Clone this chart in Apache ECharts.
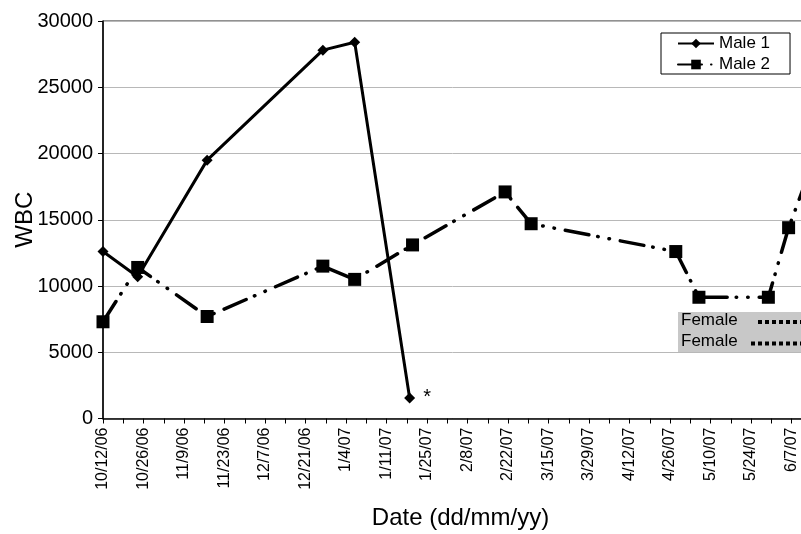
<!DOCTYPE html>
<html>
<head>
<meta charset="utf-8">
<script src="https://cdn.jsdelivr.net/npm/echarts@6/dist/echarts.min.js"></script>
<style>html,body{margin:0;padding:0;background:#fff}#c{width:801px;height:534px}</style>
</head>
<body>
<div id="c"></div>
<script>
// Tick labels (every 14 days from 10/12/06, as printed)
const dateLabels = ['10/12/06','10/26/06','11/9/06','11/23/06','12/7/06','12/21/06','1/4/07','1/11/07','1/25/07','2/8/07','2/22/07','3/15/07','3/29/07','4/12/07','4/26/07','5/10/07','5/24/07','6/7/07'];
// Days since 10/12/06
const male1Days = [0, 12, 36, 76, 87, 106];
const male1WBC  = [12600, 10700, 19500, 27800, 28400, 1550];
const male1Notes = ['', '', '', '', '', '*'];
const male2Days = [0, 12, 36, 76, 87, 107, 139, 148, 198, 206, 230, 237, 244];
const male2WBC  = [7300, 11400, 7700, 11500, 10500, 13100, 17100, 14700, 12600, 9150, 9150, 14400, 18500];
const femaleLegend = ['Female', 'Female'];

const font = 'Liberation Sans, Arial, Helvetica, sans-serif';
const chart = echarts.init(document.getElementById('c'));

const m1 = male1Days.map((d, i) => {
  const item = { value: [d, male1WBC[i]] };
  if (male1Notes[i]) item.label = { show: true, formatter: male1Notes[i], position: 'right', distance: 8, fontSize: 20, color: '#000', fontFamily: font };
  return item;
});
const m2 = male2Days.map((d, i) => [d, male2WBC[i]]);

chart.setOption({
  animation: false,
  backgroundColor: '#fff',
  grid: { left: 103, top: 21, width: 729, height: 397.5, show: true, borderColor: '#222', borderWidth: 1, backgroundColor: 'transparent', containLabel: false, outerBoundsMode: 'none' },
  legend: {
    left: 661, top: 33, orient: 'vertical',
    borderColor: '#000', borderWidth: 1, borderRadius: 0,
    padding: [2, 20, 1, 16], itemGap: 4, itemWidth: 36, itemHeight: 12,
    textStyle: { fontSize: 17, color: '#000', fontFamily: font },
    data: ['Male 1', 'Male 2']
  },
  xAxis: {
    type: 'value', min: 0, max: 252, interval: 14,
    name: 'Date (dd/mm/yy)', nameLocation: 'middle', nameGap: 88,
    nameTextStyle: { fontSize: 24, color: '#000', fontFamily: font, padding: [0, 14, 0, 0] },
    axisLine: { lineStyle: { color: '#000', width: 1.5 } },
    axisTick: { show: true, length: 5, lineStyle: { color: '#000' } },
    minorTick: { show: true, splitNumber: 2, length: 5, lineStyle: { color: '#000' } },
    splitLine: { show: false },
    axisLabel: {
      rotate: 90, fontSize: 16, color: '#000', fontFamily: font, margin: 9,
      formatter: v => dateLabels[Math.round(v / 14)] || ''
    }
  },
  yAxis: {
    type: 'value', min: 0, max: 30000, interval: 5000,
    name: 'WBC', nameLocation: 'middle', nameGap: 66, nameRotate: 90, nameMoveOverlap: false,
    nameTextStyle: { fontSize: 24, color: '#000', fontFamily: font },
    axisLine: { show: true, lineStyle: { color: '#000', width: 1.5 } },
    axisTick: { show: true, length: 5, lineStyle: { color: '#000' } },
    splitLine: { show: true, lineStyle: { color: '#b8b8b8', width: 1 } },
    axisLabel: { fontSize: 20, color: '#000', fontFamily: font, margin: 10, formatter: v => String(v) }
  },
  graphic: [
    { type: 'rect', left: 678, top: 312, shape: { width: 140, height: 40 }, style: { fill: '#c8c8c8' }, z: 100 },
    { type: 'text', left: 681, top: 312, style: { text: femaleLegend[0], fontSize: 17, fill: '#000', fontFamily: font }, z: 101 },
    { type: 'text', left: 681, top: 333, style: { text: femaleLegend[1], fontSize: 17, fill: '#000', fontFamily: font }, z: 101 },
    { type: 'line', shape: { x1: 758, y1: 322, x2: 806, y2: 322 }, style: { stroke: '#000', lineWidth: 4, lineDash: [4, 3] }, z: 101 },
    { type: 'line', shape: { x1: 751, y1: 343.5, x2: 806, y2: 343.5 }, style: { stroke: '#000', lineWidth: 4, lineDash: [4, 3] }, z: 101 }
  ],
  series: [
    {
      name: 'Male 2', type: 'line', data: m2,
      symbol: 'rect', symbolSize: 13, showAllSymbol: true,
      itemStyle: { color: '#000' },
      lineStyle: { color: '#000', width: 3.5, type: [24, 9, 0.5, 11, 0.5, 11], cap: 'round' },
      z: 2
    },
    {
      name: 'Male 1', type: 'line', data: m1,
      symbol: 'diamond', symbolSize: 11, showAllSymbol: true,
      itemStyle: { color: '#000' },
      lineStyle: { color: '#000', width: 3 },
      z: 3
    }
  ]
});
</script>
</body>
</html>
